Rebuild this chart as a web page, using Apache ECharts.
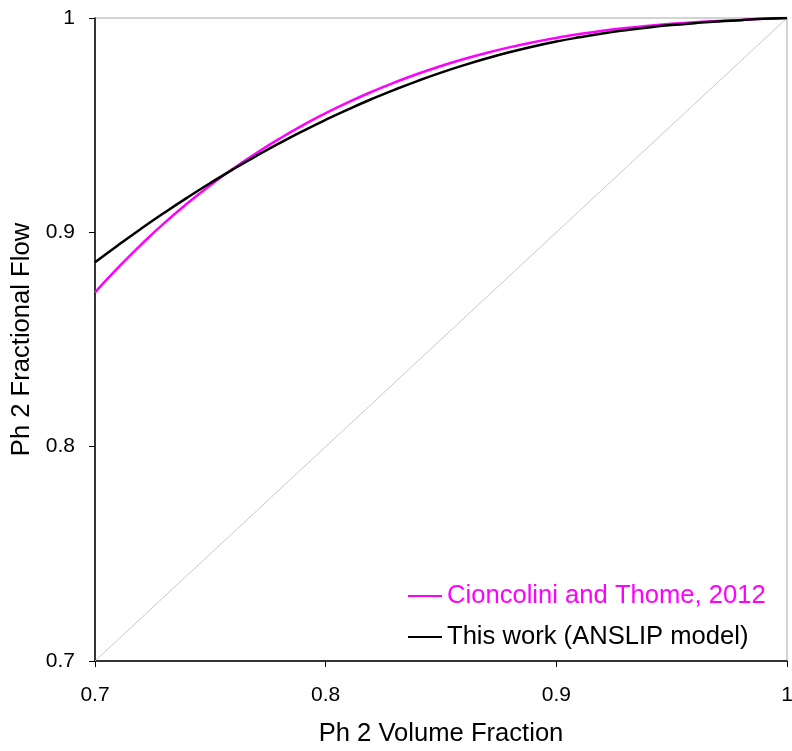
<!DOCTYPE html>
<html>
<head>
<meta charset="utf-8">
<script src="https://cdn.jsdelivr.net/npm/echarts@6/dist/echarts.min.js"></script>
<style>
  html, body { margin: 0; padding: 0; background: #fff; }
  #chart { width: 792px; height: 751px; }
</style>
</head>
<body>
<div id="chart"></div>
<script>
// volume fraction samples
const volFrac = [0.70, 0.71, 0.72, 0.73, 0.74, 0.75, 0.76, 0.77, 0.78, 0.79, 0.80,
    0.81, 0.82, 0.83, 0.84, 0.85, 0.86, 0.87, 0.88, 0.89, 0.90,
    0.91, 0.92, 0.93, 0.94, 0.95, 0.96, 0.97, 0.98, 0.99, 1.00]

const cioncolini = [0.872, 0.8835, 0.8943, 0.9043, 0.9135, 0.922, 0.9298, 0.937, 0.9437, 0.9499, 0.9556,
    0.9608, 0.9656, 0.97, 0.974, 0.9776, 0.9809, 0.9838, 0.9864, 0.9887, 0.9907,
    0.9925, 0.994, 0.9953, 0.9964, 0.9973, 0.998, 0.9986, 0.9991, 0.9996, 1.0]

const thisWork = [0.886, 0.894, 0.9017, 0.9091, 0.9162, 0.923, 0.9295, 0.9357, 0.9416, 0.9472, 0.9525,
    0.9575, 0.9622, 0.9666, 0.9707, 0.9745, 0.978, 0.9812, 0.9841, 0.9867, 0.989,
    0.991, 0.9928, 0.9943, 0.9956, 0.9967, 0.9976, 0.9984, 0.999, 0.9996, 1.0]

const diagonal = [[0.7, 0.7], [1.0, 1.0]]

const font = 'Liberation Sans'

const pair = (xs, ys) => xs.map((x, i) => [x, ys[i]])

const fmt = v => {
    const r = Math.round(v * 10) / 10
    return r === 1 ? '1' : r.toFixed(1)
}

var chartDom = document.getElementById('chart')
var myChart = echarts.init(chartDom)

const option = {
    animation: false,
    grid: {
        left: 95, top: 18, right: 5, bottom: 90,
        outerBoundsMode: 'none',
        containLabel: false,
        show: true,
        borderColor: '#a8a8a8',
        borderWidth: 1
    },
    legend: {
        orient: 'vertical',
        left: 408,
        top: 583,
        padding: 0,
        itemWidth: 34,
        itemHeight: 2,
        itemGap: 15,
        icon: 'rect',
        textStyle: { fontFamily: font, fontSize: 25.6 },
        data: [
            { name: 'Cioncolini and Thome, 2012', textStyle: { color: '#ff00ff' } },
            { name: 'This work (ANSLIP model)', textStyle: { color: '#000' } }
        ]
    },
    xAxis: {
        type: 'value',
        min: 0.7, max: 1, interval: 0.1,
        name: 'Ph 2 Volume Fraction',
        nameLocation: 'middle',
        nameGap: 60,
        nameTextStyle: { fontFamily: font, fontSize: 25.6, color: '#000' },
        axisLine: { show: true, onZero: false, lineStyle: { color: '#000', width: 1.5 } },
        axisTick: { show: true, length: 6, lineStyle: { color: '#000' } },
        axisLabel: { fontFamily: font, fontSize: 21, color: '#000', margin: 24, formatter: fmt },
        splitLine: { show: false }
    },
    yAxis: {
        type: 'value',
        min: 0.7, max: 1, interval: 0.1,
        name: 'Ph 2 Fractional Flow',
        nameLocation: 'middle',
        nameGap: 60,
        nameTextStyle: { fontFamily: font, fontSize: 25.6, color: '#000' },
        axisLine: { show: true, onZero: false, lineStyle: { color: '#000', width: 1.5 } },
        axisTick: { show: true, length: 6, lineStyle: { color: '#000' } },
        axisLabel: { fontFamily: font, fontSize: 21, color: '#000', margin: 20, formatter: fmt },
        splitLine: { show: false }
    },
    series: [
        {
            name: 'diagonal',
            type: 'line',
            data: diagonal,
            showSymbol: false,
            silent: true,
            lineStyle: { color: '#c8c8c8', width: 1 },
            z: 1
        },
        {
            name: 'Cioncolini and Thome, 2012',
            type: 'line',
            data: pair(volFrac, cioncolini),
            showSymbol: false,
            smooth: true,
            color: '#ff00ff',
            lineStyle: { color: '#ff00ff', width: 2.5 },
            z: 2
        },
        {
            name: 'This work (ANSLIP model)',
            type: 'line',
            data: pair(volFrac, thisWork),
            showSymbol: false,
            smooth: true,
            color: '#000',
            lineStyle: { color: '#000', width: 2.5 },
            z: 3
        }
    ]
}
myChart.setOption(option)
</script>
</body>
</html>
